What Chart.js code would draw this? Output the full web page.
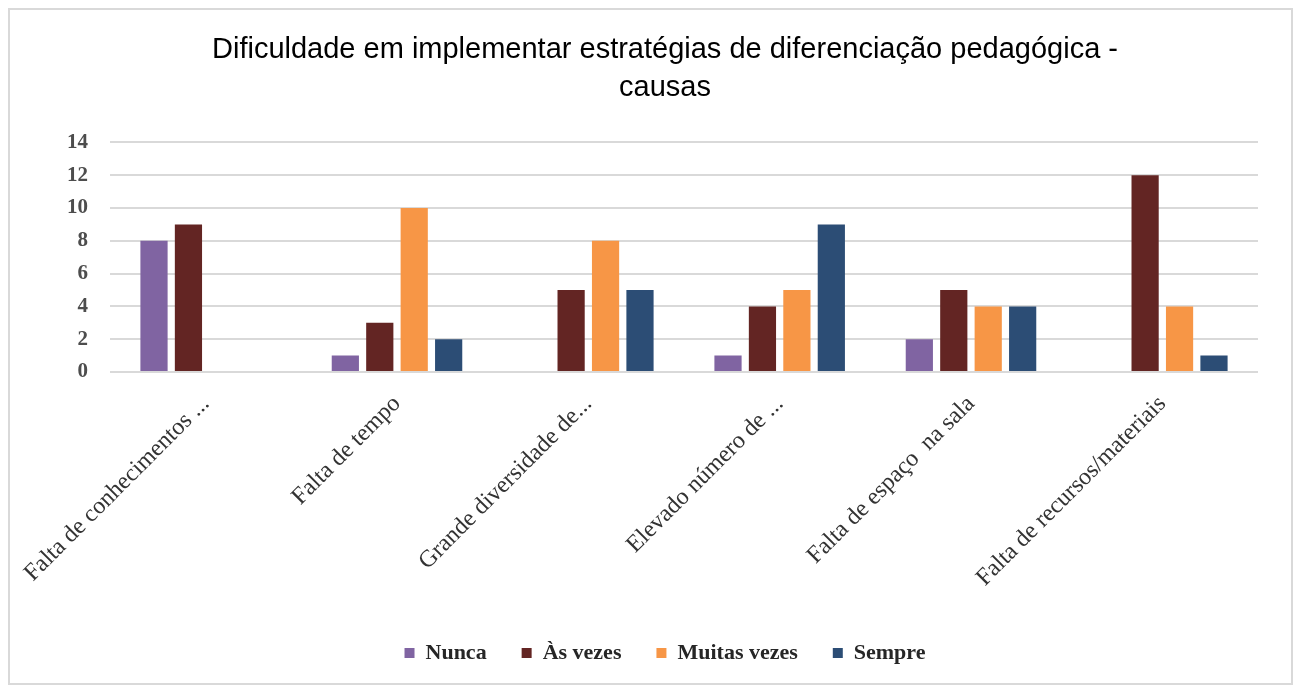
<!DOCTYPE html>
<html>
<head>
<meta charset="utf-8">
<script src="https://cdn.jsdelivr.net/npm/chart.js@4/dist/chart.umd.min.js"></script>
<style>
  html, body { margin: 0; padding: 0; background: #fff; }
  #wrap { position: relative; width: 1295px; height: 691px; }
  #frame {
    position: absolute; left: 8px; top: 8px; width: 1281px; height: 673px;
    border: 2px solid #d9d9d9; pointer-events: none;
  }
</style>
</head>
<body>
<div id="wrap">
  <canvas id="grafico" width="1295" height="691"></canvas>
  <div id="frame"></div>
</div>
<script>
const causas = [
  "Falta de conhecimentos ...",
  "Falta de tempo",
  "Grande diversidade de...",
  "Elevado número de ...",
  "Falta de espaço  na sala",
  "Falta de recursos/materiais",
];

const nunca = [8, 1, 0, 1, 2, 0];
const asVezes = [9, 3, 5, 4, 5, 12];
const muitasVezes = [0, 10, 8, 5, 4, 4];
const sempre = [0, 2, 5, 9, 4, 1];

const yTicks = [0, 2, 4, 6, 8, 10, 12, 14];

let bar = new Chart(document.getElementById("grafico"), {
  type: "bar",
  data: {
    labels: causas,
    datasets: [
      { label: "Nunca", data: nunca, backgroundColor: "#8064A2" },
      { label: "Às vezes", data: asVezes, backgroundColor: "#632523" },
      { label: "Muitas vezes", data: muitasVezes, backgroundColor: "#F79646" },
      { label: "Sempre", data: sempre, backgroundColor: "#2C4D75" },
    ],
  },
  options: {
    responsive: false,
    animation: false,
    layout: {
      padding: { left: 35, right: 0, top: 0, bottom: 17 },
    },
    datasets: {
      bar: { categoryPercentage: 0.72, barPercentage: 0.79 },
    },
    plugins: {
      title: {
        display: true,
        text: [
          "Dificuldade em implementar estratégias de diferenciação pedagógica -",
          "causas",
        ],
        color: "#000",
        font: { family: "Liberation Sans", size: 29, weight: "normal", lineHeight: 1.3 },
        padding: { top: 31, bottom: 36 },
      },
      legend: {
        position: "bottom",
        labels: {
          boxWidth: 10,
          boxHeight: 10,
          padding: 35,
          color: "#262626",
          font: { family: "Liberation Serif", size: 22, weight: "bold" },
        },
      },
      tooltip: { enabled: false },
    },
    scales: {
      x: {
        grid: { display: false },
        border: { display: false },
        ticks: {
          autoSkip: false,
          minRotation: 45,
          maxRotation: 45,
          padding: 10,
          color: "#333",
          font: { family: "Liberation Serif", size: 24 },
        },
        afterFit: (s) => {
          s.height = 235;
        },
      },
      y: {
        min: 0,
        max: 14,
        afterBuildTicks: (s) => {
          s.ticks = yTicks.map((v) => ({ value: v }));
        },
        grid: { color: "#d9d9d9", lineWidth: 2, drawTicks: false },
        border: { display: false },
        ticks: {
          padding: 22,
          color: "#4d4d4d",
          font: { family: "Liberation Serif", size: 21, weight: "bold" },
        },
        afterFit: (s) => {
          s.width = 75;
        },
      },
      derecha: {
        position: "right",
        grid: { display: false },
        border: { display: false },
        ticks: { display: false },
        afterFit: (s) => {
          s.width = 37;
        },
      },
    },
  },
});
</script>
</body>
</html>
